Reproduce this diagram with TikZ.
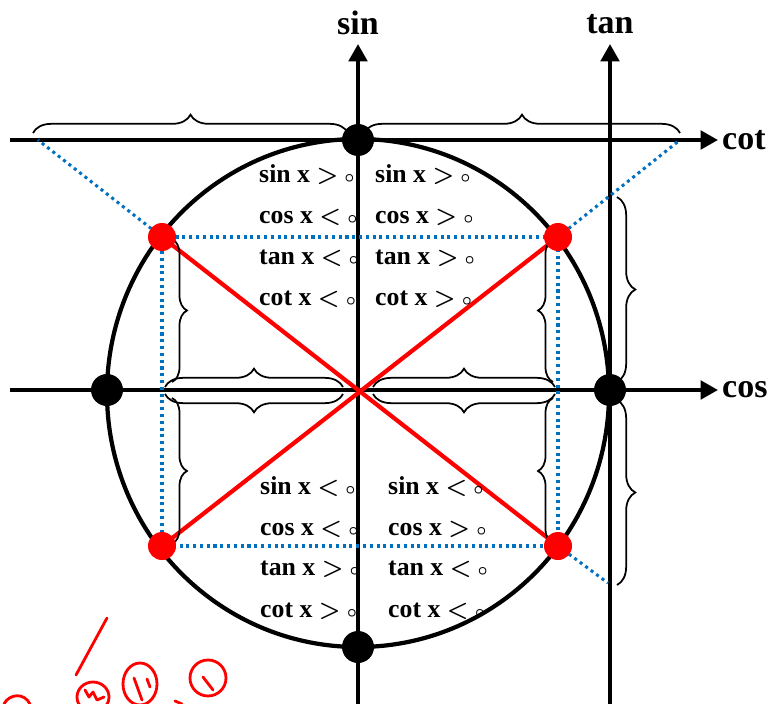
\documentclass[tikz,border=0pt]{standalone}
\usepackage{fontspec}
\setmainfont{Liberation Serif}
\usetikzlibrary{arrows.meta,positioning,decorations.pathreplacing}
\definecolor{guideblue}{HTML}{0070C0}
\newcommand{\gtz}{{\boldmath$>$} {\boldmath$\scriptstyle\circ$}}
\newcommand{\ltz}{{\boldmath$<$} {\boldmath$\scriptstyle\circ$}}

\begin{document}
\begin{tikzpicture}[x=0.03cm, y=-0.03cm,
      every node/.style={font=\bfseries\fontsize{22}{24}\selectfont},
      axis/.style={-{Triangle[length=0.52cm, width=0.55cm]}, line width=3.4pt},
      guide/.style={guideblue, line width=2.6pt, dash pattern=on 2.6pt off 3.2pt},
      brc/.style={decorate, decoration={brace, amplitude=0.55cm}, line width=1.5pt},
      brcin/.style={decorate, decoration={brace, amplitude=0.45cm}, line width=1.5pt},
      bdot/.style={circle, fill=black, minimum size=0.96cm, inner sep=0pt},
      rdot/.style={circle, fill=red, minimum size=0.84cm, inner sep=0pt},
      diag/.style={red, line width=3.6pt},
      ineq/.style={anchor=base west, inner sep=0pt},
      axlabel/.style={font=\bfseries\fontsize{29}{32}\selectfont, inner sep=0pt},
      scrib/.style={red, line width=2.4pt, line cap=round, line join=round}
  ]
    \useasboundingbox (0,0) rectangle (783,704);

    % ---- Axis end points ----
    \coordinate (cosL) at (10,390);  \coordinate (cosR) at (718,390);
    \coordinate (cotL) at (10,140);  \coordinate (cotR) at (718,140);
    \coordinate (sinB) at (358,704); \coordinate (sinT) at (358,44);
    \coordinate (tanB) at (610,704); \coordinate (tanT) at (610,44);

    % ---- Corner points ----
    \coordinate (q1) at (558,237); \coordinate (q2) at (162,237);
    \coordinate (q3) at (162,546); \coordinate (q4) at (558,546);
    \coordinate (cutL) at (38,140); \coordinate (cutR) at (680,140);
    \coordinate (cutT) at (608,583);

    % ---- Axes ----
    \draw[axis] (cosL) -- (cosR);
    \draw[axis] (cotL) -- (cotR);
    \draw[axis] (sinB) -- (sinT);
    \draw[axis] (tanB) -- (tanT);
    \node[axlabel, right=0.12cm of cosR] (coslab) {cos};
    \node[axlabel, right=0.12cm of cotR] (cotlab) {cot};
    \node[axlabel, above=0.28cm of sinT] (sinlab) {sin};
    \node[axlabel, above=0.3cm of tanT] (tanlab) {tan};

    % ---- Unit circle ----
    \draw[line width=3.6pt] (358,393) ellipse [x radius=251, y radius=254];

    % ---- Dotted guides ----
    \draw[guide] (q2) -- (cutL);
    \draw[guide] (q1) -- (cutR);
    \draw[guide] (q4) -- (cutT);
    \draw[guide] (q2) -- (q1) -- (q4) -- (q3) -- cycle;

    % ---- Diagonals ----
    \draw[diag] (q2) -- (q4);
    \draw[diag] (q1) -- (q3);

    % ---- Braces ----
    \draw[brc] (33,133) -- (348,133);
    \draw[brc] (364,133) -- (680,133);
    \draw[brc] (617,197) -- (617,382);
    \draw[brc] (617,400) -- (617,585);
    \draw[brc] (165,387) -- (343,387);
    \draw[brc] (373,387) -- (555,387);
    \draw[brc] (343,394) -- (165,394);
    \draw[brc] (555,394) -- (373,394);
    \draw[brcin] (172,239) -- (172,382);
    \draw[brcin] (172,398) -- (172,544);
    \draw[brcin] (553,382) -- (553,239);
    \draw[brcin] (553,544) -- (553,398);

    % ---- Points on the circle ----
    \node[bdot] (ntop) at (358,140) {};
    \node[bdot] (nbot) at (358,647) {};
    \node[bdot] (nleft) at (107,390) {};
    \node[bdot] (nright) at (610,390) {};
    \node[rdot] (rq1) at (q1) {};
    \node[rdot] (rq2) at (q2) {};
    \node[rdot] (rq3) at (q3) {};
    \node[rdot] (rq4) at (q4) {};

    % ---- Signs, upper half ----
    \node[ineq] (ulsin) at (259,183) {sin x \gtz};
    \node[ineq] (ulcos) at (259,224) {cos x \ltz};
    \node[ineq] (ultan) at (259,264) {tan x \ltz};
    \node[ineq] (ulcot) at (259,305) {cot x \ltz};
    \node[ineq] (ursin) at (375,183) {sin x \gtz};
    \node[ineq] (urcos) at (375,224) {cos x \gtz};
    \node[ineq] (urtan) at (375,264) {tan x \gtz};
    \node[ineq] (urcot) at (375,305) {cot x \gtz};

    % ---- Signs, lower half ----
    \node[ineq] (llsin) at (260,494) {sin x \ltz};
    \node[ineq] (llcos) at (260,535) {cos x \ltz};
    \node[ineq] (lltan) at (260,575) {tan x \gtz};
    \node[ineq] (llcot) at (260,617) {cot x \gtz};
    \node[ineq] (lrsin) at (388,494) {sin x \ltz};
    \node[ineq] (lrcos) at (388,535) {cos x \gtz};
    \node[ineq] (lrtan) at (388,575) {tan x \ltz};
    \node[ineq] (lrcot) at (388,617) {cot x \ltz};

    % ---- Hand marks ----
    \draw[scrib] (107,618) -- (76,675);
    \draw[scrib] (93,697) ellipse [x radius=16, y radius=15];
    \draw[scrib] (85,690) -- (89,697) -- (93,692) -- (97,700) -- (104,697);
    \draw[scrib] (140,684) ellipse [x radius=17, y radius=21];
    \draw[scrib] (134,678) -- (142,700);
    \draw[scrib] (147,679) -- (150,687);
    \draw[scrib] (208,678) ellipse [x radius=18, y radius=18];
    \draw[scrib] (203,677) -- (213,690);
    \draw[scrib] (175,701) -- (182,704);
    \draw[scrib] (4,704) .. controls (9,694) and (24,692) .. (30,704);
\end{tikzpicture}
\end{document}
